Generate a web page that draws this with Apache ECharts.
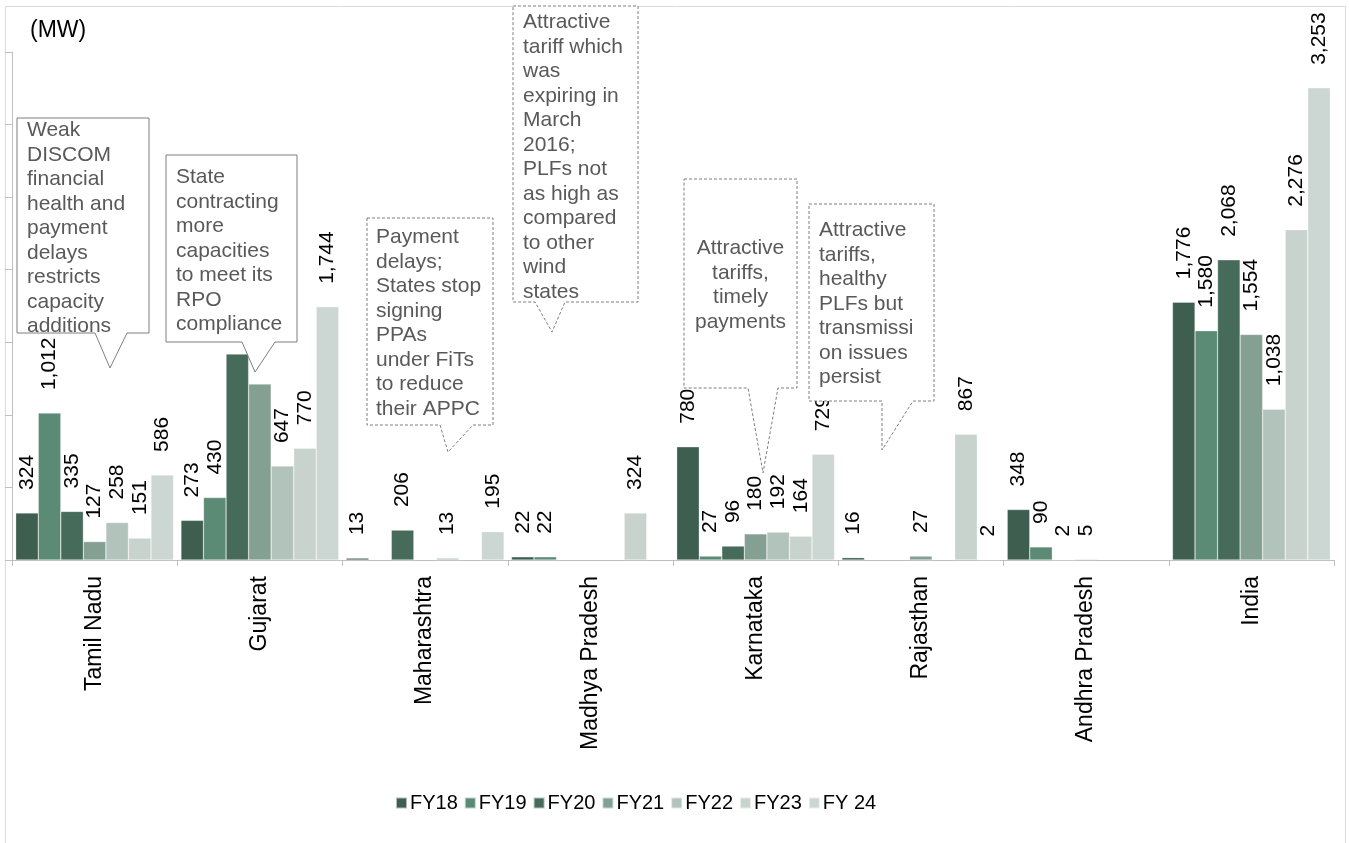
<!DOCTYPE html>
<html>
<head>
<meta charset="utf-8">
<script src="https://cdn.jsdelivr.net/npm/echarts@6/dist/echarts.min.js"></script>
<style>
html,body{margin:0;padding:0;background:#fff;}
#c{width:1349px;height:843px;}
</style>
</head>
<body>
<div id="c"></div>
<script>
const categories = ['Tamil Nadu','Gujarat','Maharashtra','Madhya Pradesh','Karnataka','Rajasthan','Andhra Pradesh','India'];
const seriesNames = ['FY18','FY19','FY20','FY21','FY22','FY23','FY 24'];
const FY18 = [324, 273, 13, 22, 780, 16, 348, 1776];
const FY19 = [1012, 430, null, 22, 27, null, 90, 1580];
const FY20 = [335, 1419, 206, null, 96, null, 2, 2068];
const FY21 = [127, 1212, null, null, 180, 27, 5, 1554];
const FY22 = [258, 647, 13, null, 192, null, null, 1038];
const FY23 = [151, 770, null, 324, 164, 867, null, 2276];
const FY24 = [586, 1744, 195, null, 729, 2, null, 3253];
const seriesValues = [FY18, FY19, FY20, FY21, FY22, FY23, FY24];
// labels hidden behind a callout in the original
const hiddenLabels = [[2, 1], [3, 1]]; // [series index, category index]
const yTicks = {min: 0, max: 3500, interval: 500};

const colors = ['#3e5e50','#5b8a75','#466b5b','#84a093','#b2c3bb','#c8d3ce','#ccd6d2'];
const FONT = '"Liberation Sans", Arial, sans-serif';

const series = seriesValues.map((vals, si) => ({
  name: seriesNames[si],
  type: 'bar',
  barGap: '0%',
  barCategoryGap: '4.5%',
  itemStyle: {color: colors[si], borderColor: 'rgba(255,255,255,0.6)', borderWidth: 0.5},
  data: vals.map((v, ci) => {
    const hide = hiddenLabels.some(h => h[0] === si && h[1] === ci);
    return hide ? {value: v, label: {show: false}} : v;
  }),
  label: {
    show: true,
    position: 'top',
    rotate: 90,
    align: 'left',
    verticalAlign: 'middle',
    distance: 23,
    color: '#000',
    fontSize: 21,
    fontFamily: FONT,
    formatter: p => p.value == null ? '' : Number(p.value).toLocaleString('en-US')
  }
}));

function callout(points, dashed, text, tx, ty, align) {
  return [
    {
      type: 'polygon', z: 100,
      shape: {points: points},
      style: {fill: '#fff', stroke: '#7f7f7f', lineWidth: 1, lineDash: dashed ? [3, 2] : null}
    },
    {
      type: 'text', z: 101, x: tx, y: ty,
      style: {text: text, fill: '#595959', font: '21px ' + FONT, lineHeight: 24.5,
        textAlign: align || 'left', textVerticalAlign: 'top'}
    }
  ];
}

const graphics = [].concat(
  [{type: 'rect', z: 0, shape: {x: 5.5, y: 6.5, width: 1340, height: 900}, style: {fill: 'none', stroke: '#d9d9d9', lineWidth: 1}}],
  callout([[17,118],[149,118],[149,333],[127,333],[110,368],[95,333],[17,333]], false,
    'Weak\nDISCOM\nfinancial\nhealth and\npayment\ndelays\nrestricts\ncapacity\nadditions', 27, 118),
  callout([[166,155],[297,155],[297,342],[275,342],[255,372],[242,342],[166,342]], false,
    'State\ncontracting\nmore\ncapacities\nto meet its\nRPO\ncompliance', 176, 165),
  callout([[367,218],[493,218],[493,425],[473,425],[448,452],[440,425],[367,425]], true,
    'Payment\ndelays;\nStates stop\nsigning\nPPAs\nunder FiTs\nto reduce\ntheir APPC', 376, 225),
  callout([[513,6],[638,6],[638,302],[565,302],[552,332],[535,302],[513,302]], true,
    'Attractive\ntariff which\nwas\nexpiring in\nMarch\n2016;\nPLFs not\nas high as\ncompared\nto other\nwind\nstates', 523, 10),
  callout([[684,179],[797,179],[797,388],[778,388],[763,473],[748,388],[684,388]], true,
    'Attractive\ntariffs,\ntimely\npayments', 740.5, 236, 'center'),
  callout([[809,204],[934,204],[934,401],[913,401],[882,450],[882,401],[809,401]], true,
    'Attractive\ntariffs,\nhealthy\nPLFs but\ntransmissi\non issues\npersist', 819, 218)
);

const chart = echarts.init(document.getElementById('c'), null, {renderer: 'canvas'});
chart.setOption({
  animation: false,
  backgroundColor: '#fff',
  title: {text: '(MW)', left: 25, top: 14, textStyle: {fontSize: 23, fontWeight: 'normal', color: '#000', fontFamily: FONT}},
  grid: {left: 12, right: 15, top: 52, bottom: 283, containLabel: false},
  legend: {
    data: seriesNames, left: 390, top: 788,
    icon: 'rect', itemWidth: 11, itemHeight: 11, itemGap: 6,
    textStyle: {fontSize: 20, color: '#000', fontFamily: FONT, padding: [0, 0, 0, -2]}
  },
  xAxis: {
    type: 'category', data: categories,
    axisLine: {lineStyle: {color: '#bfbfbf'}},
    axisTick: {show: true, length: 6, lineStyle: {color: '#bfbfbf'}},
    axisLabel: {rotate: 90, margin: 16, fontSize: 23, color: '#000', fontFamily: FONT, interval: 0}
  },
  yAxis: {
    type: 'value', min: yTicks.min, max: yTicks.max, interval: yTicks.interval,
    axisLine: {show: true, lineStyle: {color: '#bfbfbf'}},
    axisTick: {show: true, length: 7, lineStyle: {color: '#bfbfbf'}},
    axisLabel: {show: false},
    splitLine: {show: false}
  },
  series: series,
  graphic: graphics
});
</script>
</body>
</html>
